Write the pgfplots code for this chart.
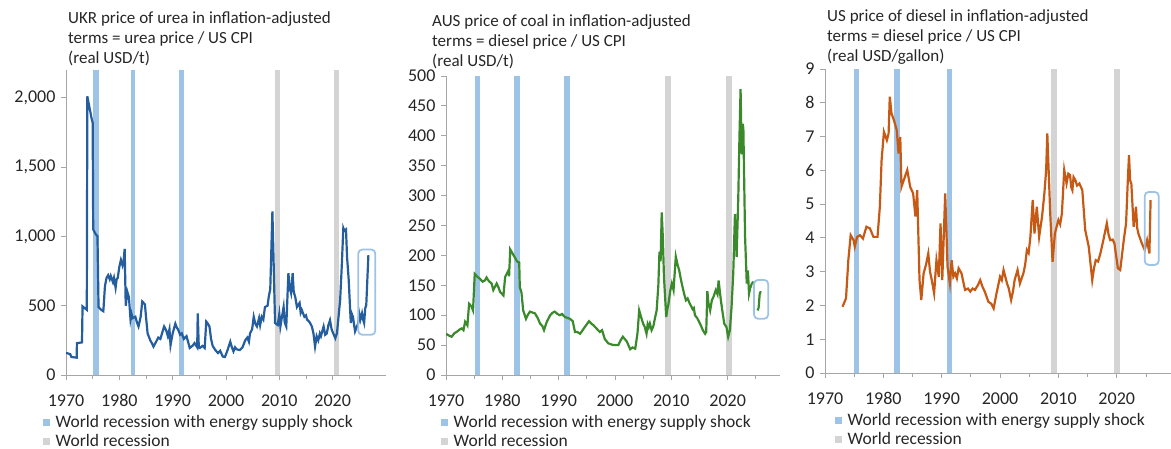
\documentclass[border=0pt]{standalone}
\usepackage{fontspec}
\setmainfont{Carlito}
\usepackage{pgfplots}
\pgfplotsset{compat=1.18}

\definecolor{bandblue}{HTML}{9DC3E6}
\definecolor{bandgray}{HTML}{D4D4D4}
\definecolor{ukrblue}{HTML}{255E9E}
\definecolor{ausgreen}{HTML}{3A8A2C}
\definecolor{usorange}{HTML}{C65A15}
\definecolor{axisgray}{HTML}{A6A6A6}
\definecolor{txt}{HTML}{262626}

% recession band: colour, from, to, top of axis
\newcommand{\band}[4]{\addplot[fill=#1, draw=none, forget plot] coordinates {(#2,0) (#2,#4) (#3,#4) (#3,0)} -- cycle;}

\pgfplotsset{
  panel/.style={
    scale only axis, anchor=south west,
    axis x line=bottom, axis y line=left,
    axis line style={-, draw=axisgray, line width=0.8pt},
    tick style={draw=axisgray, line width=0.8pt},
    tick align=outside,
    major tick length=5pt, minor tick length=4pt,
    xmin=1970, ymin=0,
    xtick={1970,1980,...,2020},
    minor xtick={1975,1985,...,2025},
    ticklabel style={font=\fontsize{18}{21}\selectfont, text=txt},
    /pgf/number format/assume math mode=true,
    x tick label style={/pgf/number format/1000 sep={}, yshift=-11pt},
    y tick label style={xshift=-2pt},
    legend style={draw=none, fill=none, anchor=north west,
      at={(axis description cs:0,0)}, yshift=-39pt,
      font=\fontsize{17.5}{19}\selectfont, text=txt,
      row sep=2pt, column sep=4pt, inner sep=0pt, nodes={inner sep=1.5pt}},
    legend cell align=left,
    legend image code/.code={\fill[##1, draw=none] (0pt,-3.5pt) rectangle (7pt,3.5pt);},
    title style={at={(axis description cs:0,1)}, anchor=south west,
      align=left, inner sep=0pt, font=\fontsize{17}{20}\selectfont, text=txt},
  },
}

\begin{document}
\begin{tikzpicture}
\useasboundingbox (0,0) rectangle (1171pt,449pt);

% ---------- UKR urea ----------
\begin{axis}[panel, at={(66pt,74pt)}, width=320pt, height=305pt,
  xmax=2030, ymax=2200, ytick={0,500,...,2000},
  title={UKR price of urea in inflation-adjusted\\terms = urea price / US CPI\\(real USD/t)},
  title style={xshift=2pt, yshift=-2pt},
  legend style={xshift=-23pt}]
\addlegendimage{fill=bandblue}
\addlegendentry{World recession with energy supply shock}
\addlegendimage{fill=bandgray}
\addlegendentry{World recession}
\band{bandblue}{1975.1}{1976.1}{2200}
\band{bandblue}{1982.1}{1983.0}{2200}
\band{bandblue}{1991.1}{1992.2}{2200}
\band{bandgray}{2009.2}{2010.2}{2200}
\band{bandgray}{2020.3}{2021.2}{2200}
\addplot[ukrblue, line width=2.2pt, forget plot] coordinates {
(1970.0,160) (1970.8,150) (1971.0,130) (1972.0,125) (1972.05,230) (1973.0,235)
(1973.1,495) (1973.9,470) (1974.0,2010) (1974.3,1950) (1974.5,1910) (1974.8,1850)
(1975.0,1820) (1975.1,1050) (1975.5,1020) (1975.9,1000) (1976.1,490) (1976.6,470)
(1977.0,460) (1977.3,640) (1977.6,700) (1977.9,720) (1978.2,690) (1978.4,715)
(1978.8,670) (1979.0,700) (1979.3,630) (1979.5,690) (1979.7,700) (1980.0,780)
(1980.3,830) (1980.6,790) (1980.8,820) (1981.0,910) (1981.2,500) (1981.5,600)
(1981.8,560) (1982.1,400) (1982.3,440) (1982.5,410) (1983.0,420) (1983.3,380)
(1983.6,350) (1984.0,420) (1984.3,530) (1984.8,510) (1985.0,420) (1985.3,300)
(1985.8,250) (1986.1,230) (1986.4,205) (1986.9,240) (1987.3,270) (1987.7,260)
(1988.0,300) (1988.4,350) (1988.8,320) (1989.1,280) (1989.4,330) (1989.6,215)
(1990.0,300) (1990.5,370) (1990.8,340) (1991.0,330) (1991.4,290) (1991.7,300)
(1992.1,260) (1992.6,280) (1993.2,195) (1993.7,210) (1994.1,230) (1994.6,200)
(1994.7,445) (1994.9,200) (1995.1,195) (1995.6,210) (1996.0,195) (1996.3,385)
(1996.6,370) (1996.9,350) (1997.2,260) (1997.5,210) (1998.0,180) (1998.5,158)
(1998.9,175) (1999.4,133) (1999.8,130) (2000.3,180) (2000.8,240) (2001.1,200)
(2001.4,170) (2001.7,200) (2002.0,185) (2002.6,180) (2003.1,200) (2003.6,250)
(2004.0,270) (2004.3,240) (2004.5,300) (2004.9,330) (2005.2,420) (2005.5,370)
(2005.8,350) (2006.2,410) (2006.4,360) (2006.7,420) (2007.0,400) (2007.3,490)
(2007.8,500) (2008.0,560) (2008.3,620) (2008.7,1180) (2009.0,700) (2009.2,375)
(2009.7,360) (2010.0,440) (2010.2,350) (2010.5,420) (2010.8,490) (2011.0,380)
(2011.3,350) (2011.7,735) (2011.9,640) (2012.0,620) (2012.2,590) (2012.5,735)
(2012.7,600) (2013.0,560) (2013.3,490) (2013.8,520) (2014.0,450) (2014.2,470)
(2014.7,420) (2015.0,430) (2015.2,400) (2015.7,380) (2016.1,350) (2016.4,300)
(2016.7,205) (2017.0,280) (2017.3,250) (2017.6,300) (2017.8,280) (2018.3,350)
(2018.6,290) (2018.9,300) (2019.2,360) (2019.5,395) (2019.8,330) (2020.0,310)
(2020.5,265) (2020.8,300) (2021.1,420) (2021.4,540) (2021.7,780) (2022.0,1060)
(2022.2,1040) (2022.5,1050) (2022.7,850) (2023.0,690) (2023.4,375) (2023.6,440)
(2023.8,420) (2024.2,315) (2024.8,375) (2025.0,440) (2025.2,400) (2025.5,445)
(2025.7,400) (2025.9,375) (2026.1,480) (2026.3,505) (2026.7,865)};
\addplot[bandblue, line width=1.8pt, rounded corners=4pt, forget plot] coordinates {
(2024.8,290) (2028,290) (2028,905) (2024.8,905)} -- cycle;
\end{axis}

% ---------- AUS coal ----------
\begin{axis}[panel, at={(446pt,74pt)}, width=334pt, height=299pt,
  xmax=2029.3, ymax=500, ytick={0,50,...,500},
  title={AUS price of coal in inflation-adjusted\\terms = diesel price / US CPI\\(real USD/t)},
  title style={xshift=-14pt, yshift=1pt},
  legend style={xshift=-5pt}]
\addlegendimage{fill=bandblue}
\addlegendentry{World recession with energy supply shock}
\addlegendimage{fill=bandgray}
\addlegendentry{World recession}
\band{bandblue}{1975.1}{1976.1}{500}
\band{bandblue}{1982.1}{1983.1}{500}
\band{bandblue}{1991.0}{1992.0}{500}
\band{bandgray}{2008.8}{2009.9}{500}
\band{bandgray}{2019.7}{2020.7}{500}
\addplot[ausgreen, line width=2.2pt, forget plot] coordinates {
(1970.0,69) (1970.5,66) (1971.0,64) (1971.5,70) (1971.9,72) (1972.4,76) (1972.8,78)
(1973.1,75) (1973.4,89) (1973.8,83) (1974.1,119) (1974.5,115) (1974.8,108)
(1975.1,169) (1975.6,164) (1976.0,161) (1976.5,156) (1976.9,158) (1977.2,163)
(1977.6,157) (1978.1,153) (1978.4,142) (1979.0,153) (1979.3,147) (1979.6,139)
(1980.2,133) (1980.5,164) (1981.1,175) (1981.2,165) (1981.4,210) (1982.2,197)
(1982.6,190) (1983.0,188) (1983.1,147) (1983.4,138) (1983.7,108) (1984.2,94)
(1984.5,100) (1984.9,106) (1985.8,103) (1986.3,95) (1986.7,86) (1987.1,82)
(1987.4,75) (1987.9,89) (1988.5,100) (1988.9,104) (1989.3,106) (1989.8,102)
(1990.2,100) (1990.6,102) (1991.1,97) (1992.0,94) (1992.5,90) (1992.9,72)
(1993.3,72) (1993.8,69) (1994.2,74) (1994.7,81) (1995.4,90) (1995.8,86)
(1996.2,83) (1996.8,77) (1997.3,72) (1997.7,75) (1998.2,60) (1998.8,53)
(1999.7,50) (2000.6,50) (2001.0,58) (2001.4,64) (2002.1,56) (2002.7,43)
(2003.1,46) (2003.6,44) (2004.0,70) (2004.3,108) (2004.7,95) (2005.0,86)
(2005.3,80) (2005.6,69) (2005.8,85) (2006.0,80) (2006.2,86) (2006.5,75)
(2006.8,81) (2007.1,95) (2007.4,108) (2007.7,150) (2007.9,206) (2008.1,190)
(2008.3,272) (2008.5,230) (2008.7,164) (2009.1,97) (2009.3,110) (2009.5,119)
(2009.8,140) (2010.1,153) (2010.4,142) (2010.8,198) (2011.1,185) (2011.4,175)
(2011.7,160) (2012.0,147) (2012.3,135) (2012.6,125) (2012.9,128) (2013.3,119)
(2013.8,110) (2014.0,112) (2014.2,100) (2014.6,95) (2015.1,86) (2015.6,75)
(2016.0,69) (2016.2,72) (2016.4,140) (2016.6,120) (2016.9,108) (2017.2,125)
(2017.5,131) (2017.9,142) (2018.2,135) (2018.4,158) (2018.8,125) (2019.1,105)
(2019.4,86) (2019.8,80) (2020.1,64) (2020.4,75) (2020.7,114) (2021.0,170)
(2021.3,269) (2021.6,197) (2021.9,300) (2022.1,397) (2022.3,478) (2022.5,369)
(2022.7,420) (2022.8,410) (2023.1,231) (2023.4,153) (2023.6,175) (2023.8,136)
(2024.0,145) (2024.3,153) (2024.6,156)};
\addplot[ausgreen, line width=2.2pt, forget plot] coordinates {
(2025.3,108) (2025.5,112) (2025.7,136) (2025.9,140)};
\addplot[bandblue, line width=1.8pt, rounded corners=4pt, forget plot] coordinates {
(2024.7,94) (2027.2,94) (2027.2,159) (2024.7,159)} -- cycle;
\end{axis}

% ---------- US diesel ----------
\begin{axis}[panel, at={(825pt,76pt)}, width=346pt, height=304pt,
  xmax=2029.3, ymax=9, ytick={0,1,...,9},
  title={US price of diesel in inflation-adjusted\\terms = diesel price / US CPI\\(real USD/gallon)},
  title style={xshift=2pt, yshift=-2pt},
  legend style={xshift=10pt}]
\addlegendimage{fill=bandblue}
\addlegendentry{World recession with energy supply shock}
\addlegendimage{fill=bandgray}
\addlegendentry{World recession}
\band{bandblue}{1974.9}{1975.9}{9}
\band{bandblue}{1981.8}{1982.9}{9}
\band{bandblue}{1990.9}{1991.8}{9}
\band{bandgray}{2008.8}{2009.7}{9}
\band{bandgray}{2019.6}{2020.6}{9}
\addplot[usorange, line width=2.2pt, forget plot] coordinates {
(1973.0,1.96) (1973.6,2.21) (1974.0,3.34) (1974.4,4.08) (1974.9,3.93) (1975.1,3.74)
(1975.5,4.03) (1976.0,4.08) (1976.5,3.98) (1977.1,4.33) (1977.7,4.28) (1978.3,4.03)
(1979.0,4.03) (1979.4,4.92) (1979.7,6.30) (1980.1,7.14) (1980.6,6.89) (1980.9,7.09)
(1981.1,8.18) (1981.4,7.68) (1981.8,7.49) (1982.3,7.19) (1982.6,6.50) (1982.9,6.99)
(1983.1,5.51) (1983.7,5.81) (1984.1,6.01) (1984.6,5.51) (1985.1,5.32) (1985.5,4.63)
(1985.8,5.41) (1986.2,2.75) (1986.5,2.16) (1986.9,2.95) (1987.3,3.20) (1987.7,3.54)
(1988.0,3.00) (1988.3,2.75) (1988.7,2.36) (1989.1,3.34) (1989.5,2.85) (1989.8,4.43)
(1990.1,2.75) (1990.6,5.32) (1991.0,3.15) (1991.4,2.65) (1991.7,3.34) (1992.0,2.85)
(1992.3,2.95) (1992.6,2.80) (1992.9,3.10) (1993.4,2.95) (1993.7,2.70) (1994.0,2.46)
(1994.5,2.50) (1994.9,2.41) (1995.3,2.50) (1995.7,2.46) (1996.2,2.60) (1996.6,2.75)
(1997.0,2.55) (1997.4,2.40) (1998.0,2.11) (1998.5,2.05) (1998.9,1.91) (1999.4,2.36)
(2000.0,2.85) (2000.3,2.75) (2000.6,3.05) (2001.2,2.65) (2001.5,2.50) (2001.9,2.16)
(2002.2,2.40) (2002.5,2.75) (2003.0,3.05) (2003.4,2.65) (2004.0,2.95) (2004.3,3.20)
(2004.6,3.64) (2004.9,3.55) (2005.2,4.03) (2005.6,5.12) (2005.9,4.13) (2006.3,4.92)
(2006.7,4.03) (2007.2,4.63) (2007.6,5.32) (2007.9,6.00) (2008.1,7.09) (2008.6,4.72)
(2009.0,3.29) (2009.4,4.13) (2010.0,4.53) (2010.3,4.40) (2010.6,4.72) (2011.0,6.01)
(2011.4,5.61) (2011.7,5.90) (2012.0,5.86) (2012.2,5.50) (2012.4,5.41) (2012.6,5.80)
(2012.9,5.71) (2013.2,5.55) (2013.6,5.61) (2014.1,5.41) (2014.6,4.23) (2015.2,3.74)
(2015.8,2.75) (2016.1,3.10) (2016.4,3.34) (2016.8,3.30) (2017.2,3.54) (2017.7,3.93)
(2018.3,4.43) (2018.6,4.10) (2018.9,3.93) (2019.3,3.95) (2019.6,3.84) (2020.2,3.10)
(2020.6,3.05) (2021.2,3.93) (2021.6,4.43) (2021.9,5.71) (2022.1,6.45) (2022.3,5.70)
(2022.5,5.61) (2022.9,4.33) (2023.3,4.92) (2023.5,4.30) (2023.7,4.13) (2024.3,3.84)
(2024.8,3.64) (2025.2,3.93) (2025.6,3.54) (2025.8,5.12)};
\addplot[bandblue, line width=1.8pt, rounded corners=4pt, forget plot] coordinates {
(2024.8,3.2) (2027.2,3.2) (2027.2,5.36) (2024.8,5.36)} -- cycle;
\end{axis}
\end{tikzpicture}
\end{document}
